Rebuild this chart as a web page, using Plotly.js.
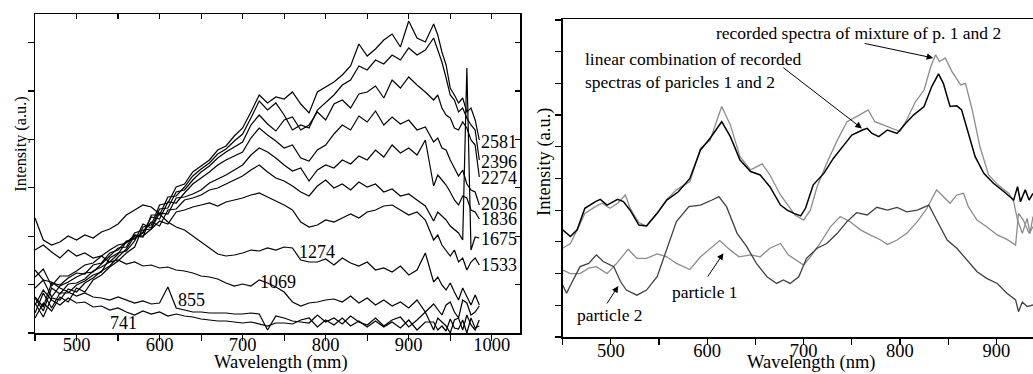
<!DOCTYPE html>
<html>
<head>
<meta charset="utf-8">
<script src="https://cdn.plot.ly/plotly-3.0.1.min.js"></script>
<style>
html, body { margin: 0; padding: 0; overflow: hidden; background: #fff; }
#chart { width: 1058px; height: 374px; }
</style>
</head>
<body>
<div id="chart"></div>
<script>
// ---------- Left panel: wavelength grid (nm) and spectra (a.u.) ----------
const wlLeft = [450,460,470,480,490,500,510,520,530,540,550,560,570,580,590,600,610,620,630,640,
  650,660,670,680,690,700,710,720,730,740,750,760,770,780,790,800,810,820,830,840,
  850,860,870,880,890,900,910,920,930,935,940,945,950,955,960,965,970,975,980,985];

const s2581 = [15,30,22,36,31,45,41,53,58,66, 72,80,86,106,108,128,130,146,149,161, 167,173,183,187,197,205,221,238,230,236, 234,241,229,220,241,246,251,258,267,289, 277,284,293,299,286,312,295,291, 309,298,281,268,245,238,230,235,221,225,213,193];
const s2396 = [30,16,35,33,44,41,50,55,62,67, 76,84,97,96,118,118,136,137,146,157, 164,170,179,184,192,199,215,232,223,230, 218,203,208,205,223,231,238,248,253,267, 263,273,269,278,273,285,278,283, 295,283,271,255,238,233,221,225,215,208,203,173];
const s2274 = [20,40,25,40,40,48,52,58,61,75, 80,82,92,109,105,124,125,141,143,153, 161,167,175,181,186,191,208,218,209,202, 213,216,203,208,221,213,229,233,225,239, 241,247,235,253,245,256,248,241, 233,238,225,218,215,205,203,211,205,193,188,156];
const s2036 = [35,22,45,39,49,50,54,62,66,71, 79,91,95,100,116,114,131,130,140,149, 155,161,168,173,177,181,195,205,198,192, 185,188,175,172,183,188,199,208,203,217, 211,222,208,216,209,213,203,206, 191,195,185,183,173,165,157,163,149,143,141,128];
const s1836 = [45,53,36,47,51,56,60,61,69,77, 85,86,100,103,104,120,119,135,136,139, 143,150,154,158,163,168,178,185,181,175, 168,162,165,152,163,168,165,173,169,177, 173,183,176,188,180,185,178,193, 147,158,153,148,141,133,128,137,135,123,121,114];
const s1675 = [36,26,50,48,55,60,59,68,70,80, 83,92,94,101,111,107,123,124,133,135, 138,143,145,149,153,157,163,168,161,155, 152,147,141,137,147,153,145,149,143,151, 146,149,141,144,137,139,133,127, 112,121,117,113,107,103,100,93,265,83,96,95];
const s1533 = [56,64,47,57,57,62,68,70,77,83, 88,90,98,97,104,112,109,121,123,126, 128,130,127,131,133,135,138,140,136,132, 128,123,111,106,108,113,111,115,119,115, 121,123,127,128,123,118,121,113, 93,98,88,83,77,83,71,75,63,71,75,68];
const s1274 = [115,93,88,91,97,93,98,95,101,104, 109,118,123,128,126,119,111,106,103,97, 91,85,79,77,78,80,83,82,85,83, 86,85,73,71,71,74,68,75,70,67, 71,63,65,61,67,58,63,80, 51,56,48,43,50,41,33,45,37,28,38,28];
const s1069 = [83,88,81,75,83,77,80,75,77,71, 73,69,71,67,68,65,66,63,62,60, 57,56,54,50,47,49,47,53,50,46, 41,31,27,30,31,33,34,31,37,30, 35,28,33,27,31,25,33,21, 29,23,18,28,31,21,15,33,30,18,21,27];
const s855  = [63,53,51,45,41,37,40,36,35,33, 36,33,30,32,29,30,46,25,23,21, 21,20,20,20,19,19,20,19,3,17, 15,12,11,10,18,11,15,9,17,11, 8,15,7,13,16,6,13,21, 3,15,11,7,0,13,15,3,18,8,3,13];
const s741  = [28,43,33,28,35,30,31,26,27,23, 25,21,18,22,19,21,17,19,17,16, 14,13,12,12,11,10,11,9,7,10, 10,9,13,15,6,13,8,15,7,12, 6,12,6,11,5,13,3,11, 11,3,7,2,14,5,4,13,0,15,5,7];

const leftSeries = [s2581, s2396, s2274, s2036, s1836, s1675, s1533, s1274, s1069, s855, s741];

// Labels of the left-panel curves: text, x (nm), y (a.u.)
const endLabels = ['2581','2396','2274','2036','1836','1675','1533'];
const endLabelY = [191,171,155,129,114,94,68];
const endLabelX = 986;
const innerLabels = ['1274','1069','855','741'];
const innerLabelX = [789,742,639,557];
const innerLabelY = [81,51,33,10];

// ---------- Right panel ----------
const combX = [450,458,465,473,484,489,496,507,513,520,529,537,548,558,570,582,593,603,615,624,634,645,655,665,676,683,690,697,702,710,721,731,742,750,761,766,771,778,787,797,806,814,825,833,840,845,852,859,864,871,878,887,897,908,918,922,925,930,934,938];
const combY = [3.38,3.17,3.38,4.06,4.27,4.34,4.16,4.34,4.27,4.0,3.53,3.50,3.90,4.32,4.58,5.0,5.9,6.27,6.79,6.32,5.58,5.22,5.11,4.74,4.16,4.0,3.9,3.82,4.06,4.8,5.16,5.64,6.06,6.37,6.53,6.58,6.42,6.32,6.53,6.42,6.74,7.0,7.27,7.9,8.3,8.0,7.27,7.29,7.16,6.42,5.69,5.16,4.85,4.58,4.32,4.74,4.27,4.64,4.32,4.53];

const mixX = [450,458,465,473,484,491,499,507,515,520,529,537,548,558,568,582,593,603,615,624,634,645,657,665,676,684,691,700,707,714,724,735,745,755,767,774,783,793,800,807,816,825,832,837,841,847,854,863,868,875,883,892,902,913,918,922,927,932,935,938];
const mixY = [2.8,2.95,3.38,3.9,4.11,4.22,4.06,4.22,4.48,4.06,3.61,3.5,3.9,4.34,4.64,4.9,5.95,6.21,7.27,6.69,5.69,5.27,5.46,5.11,4.48,4.16,3.85,3.69,4.0,4.74,5.48,6.21,6.79,6.95,7.16,6.79,6.69,6.58,6.48,6.85,7.42,7.79,8.53,8.9,8.69,8.8,8.37,7.95,8.0,7.16,6.0,5.11,4.79,4.53,4.27,3.69,3.27,3.74,3.27,3.8];

const p1X = [450,458,468,477,485,496,506,518,527,537,548,558,568,582,593,603,613,624,633,645,655,665,676,684,690,700,707,717,728,738,748,759,769,780,787,797,807,818,828,838,845,852,859,866,871,880,890,901,911,920,923,928,934,938];
const p1Y = [2.11,2.0,2.0,2.17,2.22,2.0,2.32,2.77,2.48,2.48,2.62,2.53,2.32,2.13,2.53,2.8,3.04,2.74,2.53,2.59,2.53,2.8,2.95,2.59,2.48,2.27,2.53,2.95,3.48,3.8,3.64,3.38,3.22,3.06,2.92,3.06,3.27,3.64,4.06,4.64,4.43,4.22,4.48,4.53,4.11,3.69,3.48,3.22,3.08,2.9,3.9,3.69,3.27,3.48];

const p2X = [450,454,459,468,477,485,492,503,510,516,527,537,548,558,568,581,593,605,612,620,631,641,651,662,672,679,686,695,703,714,724,735,745,755,766,776,787,797,807,818,830,838,849,859,870,880,890,901,911,920,923,927,932,938];
const p2Y = [1.64,1.38,1.69,2.22,2.32,2.59,2.38,2.22,1.75,1.48,1.32,1.48,1.9,2.74,3.64,4.11,4.16,4.32,4.43,4.11,3.27,2.85,2.32,1.9,1.69,1.8,1.69,1.9,2.48,2.8,2.95,3.27,3.64,3.92,3.85,4.09,4.0,4.09,3.95,4.0,4.16,3.69,3.06,2.8,2.43,2.06,1.85,1.69,1.38,1.17,0.8,1.1,0.96,1.01];

const FONT = 'Liberation Serif';
const LRANGE_X = [450, 1034], LRANGE_Y = [0, 319];
const RRANGE_X = [450, 964], RRANGE_Y = [0, 10.03];

const traces = [];
leftSeries.forEach(s => traces.push({
  x: wlLeft, y: s, type: 'scatter', mode: 'lines', xaxis: 'x', yaxis: 'y',
  line: {color: '#000', width: 1.2}, hoverinfo: 'skip'
}));
// empty traces so the overlay tick axes exist
traces.push({x: [], y: [], xaxis: 'x3', yaxis: 'y', type: 'scatter', mode: 'lines'});
traces.push({x: [], y: [], xaxis: 'x', yaxis: 'y3', type: 'scatter', mode: 'lines'});
traces.push({x: [], y: [], xaxis: 'x4', yaxis: 'y', type: 'scatter', mode: 'lines'});
traces.push({x: [], y: [], xaxis: 'x5', yaxis: 'y2', type: 'scatter', mode: 'lines'});

traces.push({x: p1X, y: p1Y, type: 'scatter', mode: 'lines', xaxis: 'x2', yaxis: 'y2', line: {color: '#8c8c8c', width: 1.3}});
traces.push({x: p2X, y: p2Y, type: 'scatter', mode: 'lines', xaxis: 'x2', yaxis: 'y2', line: {color: '#404040', width: 1.3}});
traces.push({x: mixX, y: mixY, type: 'scatter', mode: 'lines', xaxis: 'x2', yaxis: 'y2', line: {color: '#8c8c8c', width: 1.3}});
traces.push({x: combX, y: combY, type: 'scatter', mode: 'lines', xaxis: 'x2', yaxis: 'y2', line: {color: '#000', width: 1.5}});

const annotations = [];
endLabels.forEach((t, i) => annotations.push({
  text: t, x: endLabelX, y: endLabelY[i], xref: 'x', yref: 'y', xanchor: 'left', yanchor: 'middle',
  showarrow: false, font: {family: FONT, size: 18, color: '#000'}, borderpad: 0
}));
innerLabels.forEach((t, i) => annotations.push({
  text: t, x: innerLabelX[i], y: innerLabelY[i], xref: 'x', yref: 'y', xanchor: 'center', yanchor: 'middle',
  showarrow: false, font: {family: FONT, size: 18, color: '#000'}, borderpad: 0
}));

const af = {family: FONT, size: 17.5, color: '#000'};
annotations.push({text: 'recorded spectra of mixture of p. 1 and 2', x: 756.6, y: 9.59, xref: 'x2', yref: 'y2', xanchor: 'center', yanchor: 'middle', showarrow: false, font: af});
annotations.push({text: 'linear combination of recorded<br>spectras of paricles 1 and 2', x: 470.8, y: 8.42, xref: 'x2', yref: 'y2', xanchor: 'left', yanchor: 'middle', align: 'left', showarrow: false, font: af});
annotations.push({text: 'particle 1', x: 597.8, y: 1.43, xref: 'x2', yref: 'y2', xanchor: 'center', yanchor: 'middle', showarrow: false, font: af});
annotations.push({text: 'particle 2', x: 499.1, y: 0.69, xref: 'x2', yref: 'y2', xanchor: 'center', yanchor: 'middle', showarrow: false, font: af});

const arrows = [
  [834.5, 8.8, 761.8, 9.27],
  [760.5, 6.58, 677.4, 8.53],
  [616.8, 2.64, 599.5, 1.86],
  [507.7, 1.61, 495, 1.01]
];
arrows.forEach(a => annotations.push({
  text: '', x: a[0], y: a[1], ax: a[2], ay: a[3], xref: 'x2', yref: 'y2', axref: 'x2', ayref: 'y2',
  showarrow: true, arrowhead: 2, arrowsize: 1.3, arrowwidth: 1, arrowcolor: '#000', standoff: 0
}));

// axis titles
annotations.push({text: 'Intensity (a.u.)', x: 0.0186, y: 0.5975, xref: 'paper', yref: 'paper', textangle: -90,
  xanchor: 'center', yanchor: 'middle', showarrow: false, font: {family: FONT, size: 16.3, color: '#000'}});
annotations.push({text: 'Intensity (a.u.)', x: 0.5151, y: 0.5418, xref: 'paper', yref: 'paper', textangle: -90,
  xanchor: 'center', yanchor: 'middle', showarrow: false, font: {family: FONT, size: 18.5, color: '#000'}});
annotations.push({text: 'Wavelength (mm)', x: 0.2656, y: -0.0774, xref: 'paper', yref: 'paper', xanchor: 'center', yanchor: 'middle',
  borderpad: 0, showarrow: false, font: {family: FONT, size: 18.5, color: '#000'}});
annotations.push({text: 'Wavelength (nm)', x: 0.7661, y: -0.0774, xref: 'paper', yref: 'paper', xanchor: 'center', yanchor: 'middle',
  borderpad: 0, showarrow: false, font: {family: FONT, size: 18.5, color: '#000'}});

const tickFont = {family: FONT, size: 18.5, color: '#000'};
const baseAx = {showgrid: false, zeroline: false, showline: true, linecolor: '#000', linewidth: 1.5,
  tickcolor: '#000', tickwidth: 1.2};
const tickOnly = {showgrid: false, zeroline: false, showline: true, linecolor: '#000', linewidth: 1.5,
  tickcolor: '#000', tickwidth: 1.2, showticklabels: false};

const layout = {
  width: 1058, height: 374,
  margin: {l: 0, r: 0, t: 14, b: 37, pad: 0},
  paper_bgcolor: '#fff', plot_bgcolor: '#fff',
  showlegend: false,
  font: {family: FONT, color: '#000'},
  // left panel: data axis carries the tick labels, overlay x4 draws line and ticks
  xaxis: {
    domain: [35/1058, 520/1058], range: LRANGE_X, anchor: 'free', position: 6/323,
    showline: false, showgrid: false, zeroline: false,
    ticks: '', tick0: 0, dtick: 100, tickfont: tickFont
  },
  xaxis4: Object.assign({}, tickOnly, {
    overlaying: 'x', side: 'bottom', anchor: 'y', range: LRANGE_X,
    ticks: 'outside', ticklen: 6, tick0: 0, dtick: 50
  }),
  yaxis: Object.assign({}, baseAx, {
    domain: [4/323, 1], range: LRANGE_Y, anchor: 'x',
    ticks: 'outside', ticklen: 6, tick0: 0, dtick: 48.4, showticklabels: false
  }),
  xaxis3: Object.assign({}, baseAx, {
    overlaying: 'x', side: 'top', anchor: 'y', range: LRANGE_X,
    ticks: 'inside', ticklen: 5, tick0: 0, dtick: 50, showticklabels: false
  }),
  yaxis3: Object.assign({}, baseAx, {
    overlaying: 'y', side: 'right', anchor: 'x', range: LRANGE_Y,
    ticks: 'inside', ticklen: 5, tick0: 0, dtick: 48.4, showticklabels: false
  }),
  // right panel
  xaxis2: {
    domain: [562.7/1058, 1], range: RRANGE_X, anchor: 'free', position: 0,
    showline: false, showgrid: false, zeroline: false,
    ticks: '', tick0: 0, dtick: 100, tickfont: tickFont
  },
  xaxis5: Object.assign({}, tickOnly, {
    overlaying: 'x2', side: 'bottom', anchor: 'y2', range: RRANGE_X, mirror: true,
    ticks: 'outside', ticklen: 6, tick0: 0, dtick: 50
  }),
  yaxis2: Object.assign({}, baseAx, {
    domain: [0, 318/323], range: RRANGE_Y, anchor: 'x2', mirror: true,
    ticks: 'outside', ticklen: 6, tick0: 0, dtick: 1, showticklabels: false
  }),
  annotations: annotations
};

Plotly.newPlot('chart', traces, layout, {displayModeBar: false, staticPlot: true});
</script>
</body>
</html>
